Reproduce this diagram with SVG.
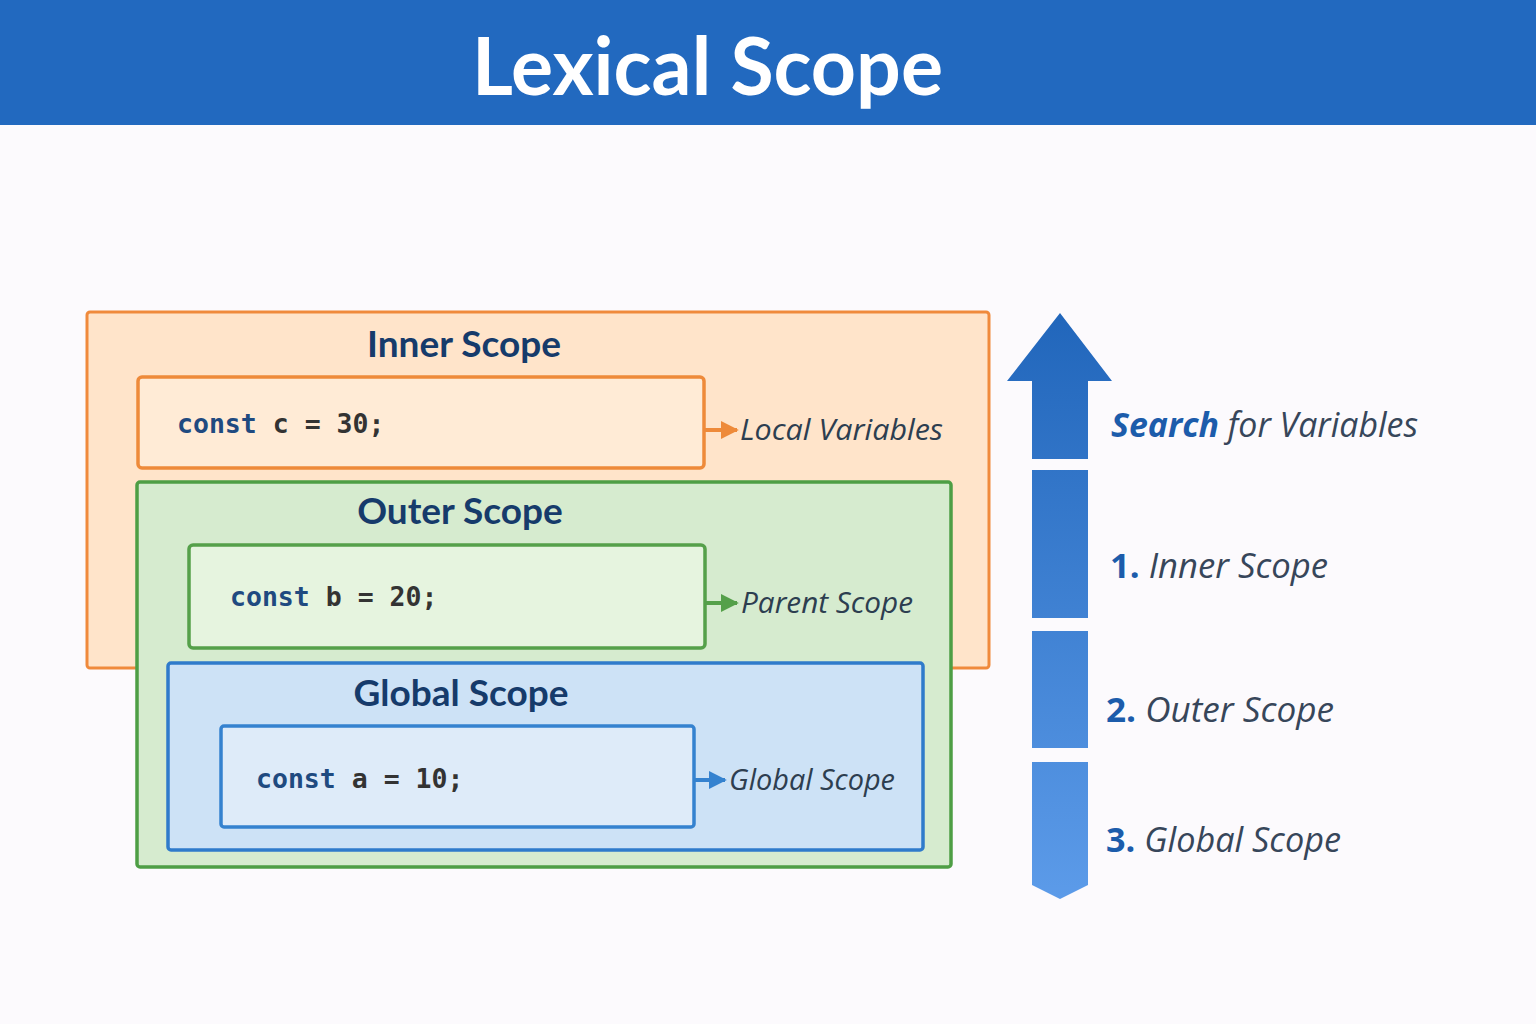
<svg xmlns="http://www.w3.org/2000/svg" width="1536" height="1024" viewBox="0 0 1536 1024">
<defs>
<linearGradient id="arrowGrad" gradientUnits="userSpaceOnUse" x1="0" y1="313" x2="0" y2="899">
<stop offset="0" stop-color="#2166BB"/>
<stop offset="1" stop-color="#5C9BE9"/>
</linearGradient>
<marker id="ahO" viewBox="0 0 10 10" refX="9" refY="5" markerWidth="4.5" markerHeight="4.5" orient="auto" markerUnits="strokeWidth"><path d="M0,0 L10,5 L0,10 z" fill="#EE8A3A"/></marker>
<marker id="ahG" viewBox="0 0 10 10" refX="9" refY="5" markerWidth="4.5" markerHeight="4.5" orient="auto" markerUnits="strokeWidth"><path d="M0,0 L10,5 L0,10 z" fill="#55A04A"/></marker>
<marker id="ahB" viewBox="0 0 10 10" refX="9" refY="5" markerWidth="4.5" markerHeight="4.5" orient="auto" markerUnits="strokeWidth"><path d="M0,0 L10,5 L0,10 z" fill="#3582CF"/></marker>
</defs>
<style>
.title{font-family:"Lato","Open Sans",sans-serif;font-weight:700;fill:#ffffff}
.scopeTitle{font-family:"Lato","Open Sans",sans-serif;font-weight:700;font-size:37px;fill:#163B6B;text-anchor:middle}
.code{font-family:"DejaVu Sans Mono","Liberation Mono",monospace;font-size:26.5px;font-weight:700;fill:#333333}
.kw{fill:#1F4A80}
.lbl{font-family:"Open Sans","Noto Sans",sans-serif;font-style:italic;font-size:30px;fill:#2D3E50}
.side{font-family:"Open Sans","Noto Sans",sans-serif;font-style:italic;font-size:34px;fill:#37465A}
.num{font-style:normal;font-weight:700;fill:#1C5CAB}
.conn{fill:none;stroke-width:4}
</style>
<rect x="0" y="0" width="1536" height="1024" fill="#FCFAFD"/>
<g id="header">
<rect x="0" y="0" width="1536" height="125" fill="#2269BF"/>
<text class="title" x="472" y="95" font-size="80" textLength="471" lengthAdjust="spacingAndGlyphs">Lexical Scope</text>
</g>
<g id="inner-scope">
<rect x="87" y="312" width="902" height="356" rx="3" fill="#FFE4CA" stroke="#F08A3C" stroke-width="3"/>
<text class="scopeTitle" x="464" y="357">Inner Scope</text>
</g>
<g id="inner-code">
<rect x="138" y="377" width="566" height="91" rx="4" fill="#FFEBD6" stroke="#EE8A3A" stroke-width="3.5"/>
<text class="code" x="177" y="433"><tspan class="kw">const</tspan> c = 30;</text>
</g>
<g id="outer-scope">
<rect x="137" y="482" width="814" height="385" rx="3" fill="#D6EBCF" stroke="#4E9E45" stroke-width="3.5"/>
<text class="scopeTitle" x="460" y="524">Outer Scope</text>
</g>
<g id="outer-code">
<rect x="189" y="545" width="516" height="103" rx="4" fill="#E6F4DF" stroke="#55A04A" stroke-width="3.5"/>
<text class="code" x="230" y="606"><tspan class="kw">const</tspan> b = 20;</text>
</g>
<g id="global-scope">
<rect x="168" y="663" width="755" height="187" rx="3" fill="#CDE2F6" stroke="#2F7BCB" stroke-width="3.5"/>
<text class="scopeTitle" x="461" y="706">Global Scope</text>
</g>
<g id="global-code">
<rect x="221" y="726" width="473" height="101" rx="3" fill="#DEEBF9" stroke="#3582CF" stroke-width="3.5"/>
<text class="code" x="256" y="788"><tspan class="kw">const</tspan> a = 10;</text>
</g>
<g id="connectors">
<line class="conn" x1="704" y1="430" x2="737" y2="430" stroke="#EE8A3A" marker-end="url(#ahO)"/>
<line class="conn" x1="705" y1="603" x2="737" y2="603" stroke="#55A04A" marker-end="url(#ahG)"/>
<line class="conn" x1="694" y1="780" x2="725" y2="780" stroke="#3582CF" marker-end="url(#ahB)"/>
</g>
<g id="labels">
<text class="lbl" x="740" y="440" textLength="203" lengthAdjust="spacingAndGlyphs">Local Variables</text>
<text class="lbl" x="741" y="613" textLength="172" lengthAdjust="spacingAndGlyphs">Parent Scope</text>
<text class="lbl" x="729" y="790" textLength="166" lengthAdjust="spacingAndGlyphs">Global Scope</text>
</g>
<g id="search-arrow" fill="url(#arrowGrad)">
<path d="M1060,313 L1112,381 L1088,381 L1088,459 L1032,459 L1032,381 L1007,381 Z"/>
<rect x="1032" y="470" width="56" height="148"/>
<rect x="1032" y="631" width="56" height="117"/>
<path d="M1032,762 L1088,762 L1088,885 L1060,899 L1032,885 Z"/>
</g>
<g id="search-text">
<text class="side" x="1111" y="437" textLength="307" lengthAdjust="spacingAndGlyphs"><tspan font-weight="700" fill="#1C5CAB">Search</tspan> for Variables</text>
<text class="side" x="1110" y="578" textLength="218" lengthAdjust="spacingAndGlyphs"><tspan class="num">1.</tspan> Inner Scope</text>
<text class="side" x="1106" y="722" textLength="228" lengthAdjust="spacingAndGlyphs"><tspan class="num">2.</tspan> Outer Scope</text>
<text class="side" x="1106" y="852" textLength="235" lengthAdjust="spacingAndGlyphs"><tspan class="num">3.</tspan> Global Scope</text>
</g>
</svg>
